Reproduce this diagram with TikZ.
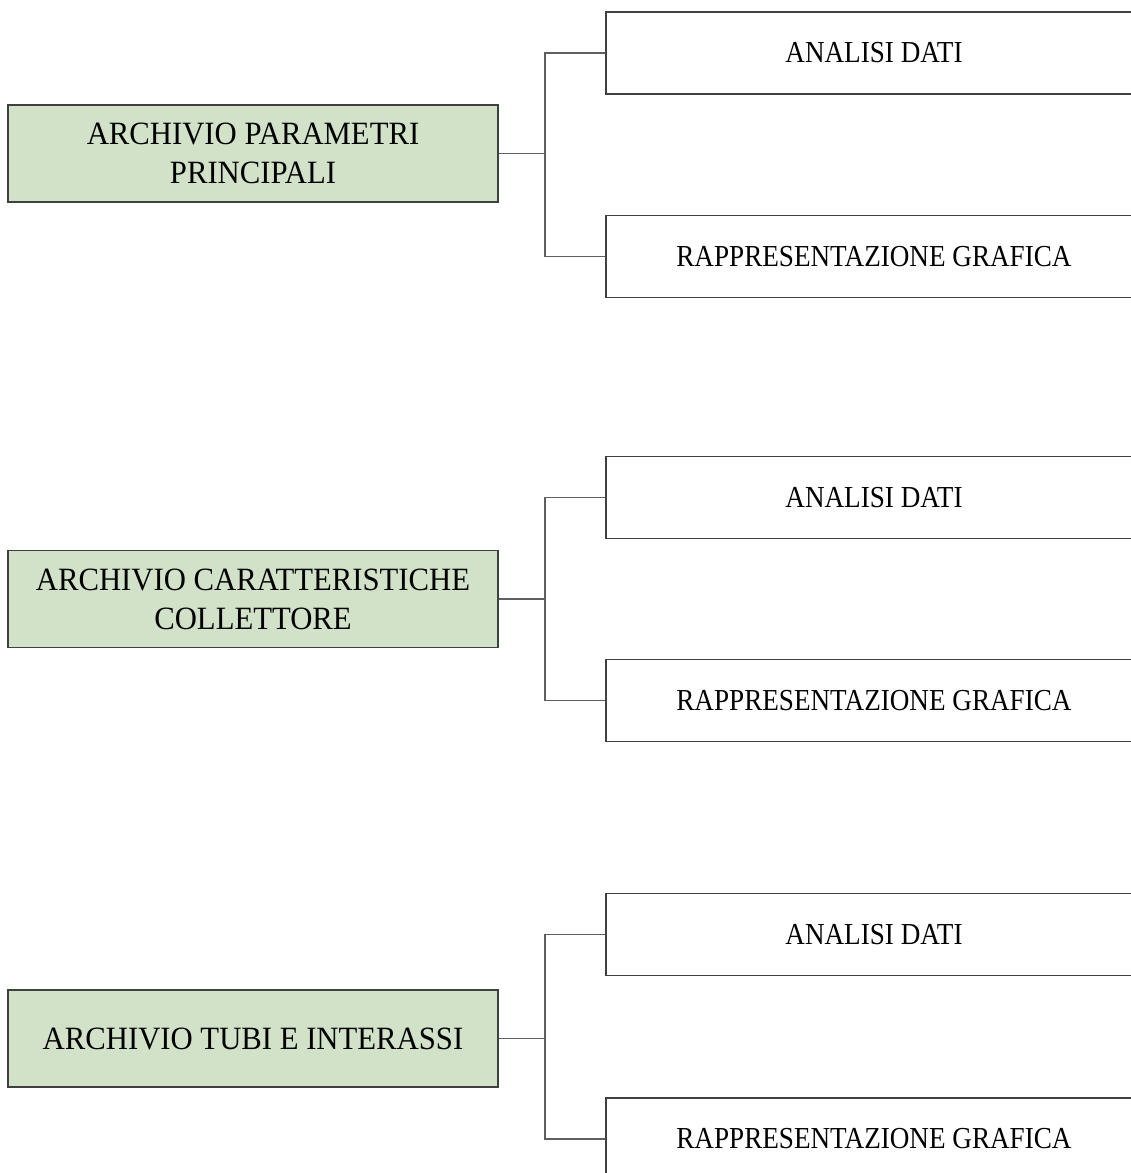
\documentclass[tikz,border=0pt]{standalone}
\usepackage{fontspec}
\setmainfont{Liberation Serif}
\newfontfamily\leftfont[FakeStretch=0.945]{Liberation Serif}
\newfontfamily\rightfont[FakeStretch=0.89]{Liberation Serif}
\definecolor{boxgreen}{RGB}{209,226,200}
\definecolor{edgegray}{RGB}{64,64,64}
\definecolor{linkgray}{RGB}{95,95,95}
\tikzset{
  archivebox/.style={draw=edgegray, line width=1.6pt, fill=boxgreen, minimum width=490pt, minimum height=97pt, inner sep=0pt, align=center, font=\leftfont\fontsize{32.5}{39}\selectfont},
  taskbox/.style={draw=edgegray, line width=1.6pt, fill=white, minimum width=536pt, minimum height=82pt, inner sep=0pt, align=center, font=\rightfont\fontsize{30.5}{34}\selectfont},
  link/.style={draw=linkgray, line width=1.3pt}
}
\begin{document}
\begin{tikzpicture}[x=1pt,y=1pt]
\useasboundingbox (0,0) rectangle (1131,-1173);
\clip (0,0) rectangle (1131,-1173);
\fill[white] (0,0) rectangle (1131,-1173);

\node[archivebox] (L1) at (253,-153.5) {ARCHIVIO PARAMETRI\\PRINCIPALI};
\node[archivebox] (L2) at (253,-599) {ARCHIVIO CARATTERISTICHE\\COLLETTORE};
\node[archivebox] (L3) at (253,-1038.5) {ARCHIVIO TUBI E INTERASSI};

\node[taskbox] (A1) at (874,-53) {ANALISI DATI};
\node[taskbox] (R1) at (874,-256.5) {RAPPRESENTAZIONE GRAFICA};
\node[taskbox] (A2) at (874,-497.5) {ANALISI DATI};
\node[taskbox] (R2) at (874,-700.5) {RAPPRESENTAZIONE GRAFICA};
\node[taskbox] (A3) at (874,-934.5) {ANALISI DATI};
\node[taskbox] (R3) at (874,-1139) {RAPPRESENTAZIONE GRAFICA};

\coordinate (b1) at (545,-153.5);
\coordinate (b2) at (545,-599);
\coordinate (b3) at (545,-1038.5);

\draw[link] (L1.east) -- (b1);
\draw[link] (A1.west) -| (b1) |- (R1.west);
\draw[link] (L2.east) -- (b2);
\draw[link] (A2.west) -| (b2) |- (R2.west);
\draw[link] (L3.east) -- (b3);
\draw[link] (A3.west) -| (b3) |- (R3.west);
\end{tikzpicture}
\end{document}
